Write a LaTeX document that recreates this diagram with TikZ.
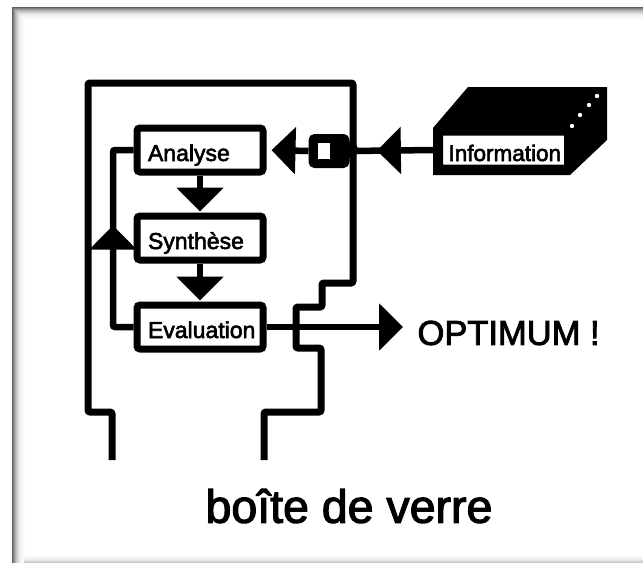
\documentclass[tikz,border=0pt]{standalone}
\usepackage{fontspec}
\setmainfont[AutoFakeBold=2.5]{Liberation Sans}
\usepackage{tikz}
\usetikzlibrary{arrows.meta,decorations.markings}
\newcommand{\boxlab}[1]{\raisebox{-11pt}[0pt][0pt]{\bfseries #1}}
\tikzset{
  wall/.style={line width=7pt,rounded corners=2pt},
  link/.style={line width=6.5pt},
  procbox/.style={draw,line width=7pt,rounded corners=3pt,fill=white,minimum width=126pt,minimum height=44pt,inner sep=0pt,text width=104pt,align=left,font=\fontsize{23}{23}\selectfont},
  bigtip/.style={-{Triangle[width=46pt,length=24pt]}},
  tipat/.style={postaction={decorate},decoration={markings,mark=at position #1 with {\arrow{Triangle[width=46pt,length=24pt]}}}},
}
\begin{document}
\begin{tikzpicture}[x=1pt,y=-1pt,>=Latex]
  \useasboundingbox (0,0) rectangle (643,565);
  % shaded frame
  \foreach \i/\k in {0/62,1/50,2/40,3/31,4/24,5/18,6/13,7/9,8/6,9/4,10/3,11/2,12/1}{
    \fill[black!\k] (12+\i,7+\i) rectangle (13+\i,563);
    \fill[black!\k] (12+\i,7+\i) rectangle (643,8+\i);
  }
  \foreach \i/\k in {0/22,1/16,2/11,3/8,4/5,5/3,6/2,7/1}{
    \fill[black!\k] (24,562-\i) rectangle (643,563-\i);
  }
  % glass box
  \draw[wall] (112,460)--(112,412)--(88,412)--(88,83)--(353,83)--(353,283)--(322,283)--(322,307)--(296,307)--(296,348)--(321,348)--(321,412)--(264,412)--(264,460);
  % source block
  \fill (433,128)--(468,87)--(607,87)--(607,140)--(570,175)--(433,175)--cycle;
  \foreach \x/\y in {597/96,589/105,580/115,572/126}{
    \fill[white] (\x,\y) circle (2.2pt);
  }
  % nodes
  \node[procbox] (analyse) at (200,150) {\boxlab{Analyse}};
  \node[procbox] (synthese) at (200,238) {\boxlab{Synthèse}};
  \node[procbox] (evaluation) at (200,327) {\boxlab{Evaluation}};
  \node[procbox,minimum width=129pt,minimum height=37pt,line width=8pt,text width=110pt] (information) at (503.5,150) {\fontsize{22.5}{23}\selectfont\boxlab{Information}};
  \node[draw,fill=black,line width=7pt,rounded corners=3pt,minimum width=34pt,minimum height=27pt,inner sep=0pt] (port) at (329,151) {};
  \node[fill=white,minimum width=12pt,minimum height=16pt,inner sep=0pt] (portwin) at (324,151) {};
  \fill (350,150) circle (8pt);
  \node[font=\fontsize{34.5}{35}\selectfont,anchor=west] (optimum) at (414,333) {\bfseries OPTIMUM !};
  \node[font=\fontsize{46.5}{47}\selectfont] (verre) at (349,506) {\bfseries boîte de verre};
  \coordinate (out) at (403,327);
  % connectors
  \draw[link,tipat=0.68] (information.west)--(port.east);
  \draw[link,bigtip,shorten >=5pt] (port.west)--(analyse.east);
  \draw[link,bigtip,shorten >=1pt] (analyse.south)--(synthese.north);
  \draw[link,bigtip,shorten >=1pt] (synthese.south)--(evaluation.north);
  \draw[link,bigtip] (evaluation.east)--(out);
  \draw[link,rounded corners=2pt,tipat=0.56] (evaluation.west)-|(113,238)|-(analyse.west);
\end{tikzpicture}
\end{document}
